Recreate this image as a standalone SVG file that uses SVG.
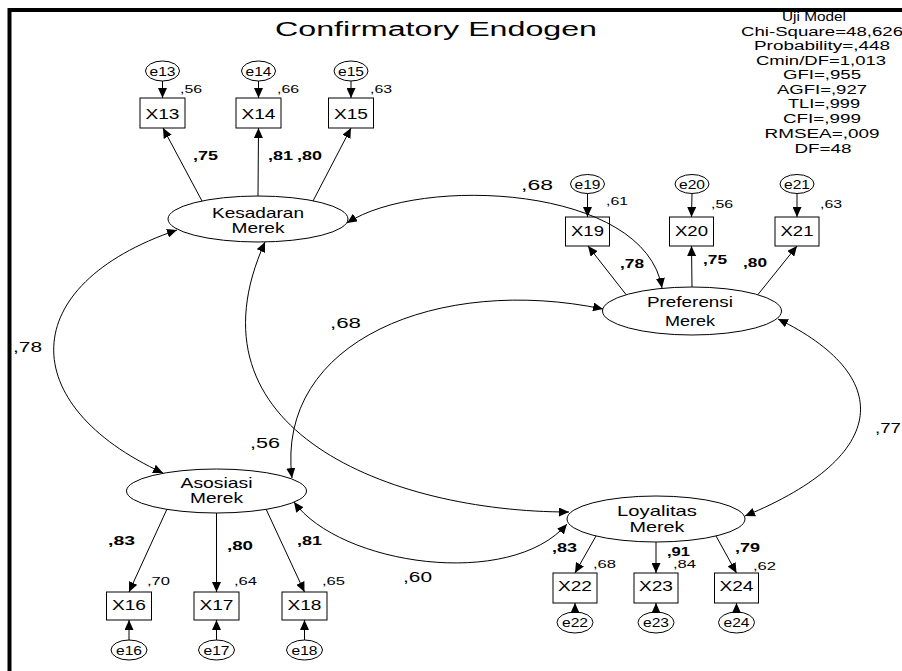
<svg xmlns="http://www.w3.org/2000/svg" width="902" height="671" viewBox="0 0 902 671">
  <style>
    text { font-family: "Liberation Sans", Arial, sans-serif; fill: #000; }
    .ln { stroke: #000; stroke-width: 1; fill: none; }
    .one { marker-end: url(#ah); }
    .two { marker-start: url(#ah); marker-end: url(#ah); }
    .shape { fill: #fff; stroke: #000; stroke-width: 1; }
    .lat { font-size: 14.5px; text-anchor: middle; }
    .obs { font-size: 14px; text-anchor: middle; }
    .err { font-size: 13px; text-anchor: middle; }
    .r2 { font-size: 11px; }
    .ld { font-size: 13px; font-weight: bold; }
    .cv { font-size: 14px; }
    .fit { font-size: 12px; text-anchor: middle; }
    .title { font-size: 20px; }
  </style>
  <defs>
    <marker id="ah" viewBox="0 0 10 9" refX="10" refY="4.5" markerWidth="10" markerHeight="9" markerUnits="userSpaceOnUse" orient="auto-start-reverse">
      <path d="M0,0 L10,4.5 L0,9 z" fill="#000"/>
    </marker>
  </defs>

  <rect width="902" height="671" fill="#fff"/>
  <!-- frame -->
  <path d="M9.5,671 V10 H902" fill="none" stroke="#000" stroke-width="4"/>

  <text class="title" x="275" y="36" textLength="322" lengthAdjust="spacingAndGlyphs">Confirmatory Endogen</text>

  <!-- model fit -->
  <g id="fit">
    <text class="fit" x="814" y="21" textLength="64" lengthAdjust="spacingAndGlyphs">Uji Model</text>
    <text class="fit" x="822" y="35.5" textLength="162" lengthAdjust="spacingAndGlyphs">Chi-Square=48,626</text>
    <text class="fit" x="822" y="50" textLength="136" lengthAdjust="spacingAndGlyphs">Probability=,448</text>
    <text class="fit" x="821" y="64.5" textLength="130" lengthAdjust="spacingAndGlyphs">Cmin/DF=1,013</text>
    <text class="fit" x="822" y="79" textLength="78" lengthAdjust="spacingAndGlyphs">GFI=,955</text>
    <text class="fit" x="822" y="94" textLength="90" lengthAdjust="spacingAndGlyphs">AGFI=,927</text>
    <text class="fit" x="824" y="108" textLength="72" lengthAdjust="spacingAndGlyphs">TLI=,999</text>
    <text class="fit" x="822" y="123" textLength="78" lengthAdjust="spacingAndGlyphs">CFI=,999</text>
    <text class="fit" x="822" y="138" textLength="115" lengthAdjust="spacingAndGlyphs">RMSEA=,009</text>
    <text class="fit" x="823" y="152.5" textLength="57" lengthAdjust="spacingAndGlyphs">DF=48</text>
  </g>

  <!-- latent variables -->
  <g id="kesadaran">
    <ellipse class="shape" cx="258" cy="219" rx="90" ry="23"/>
    <text class="lat" x="258" y="218" textLength="92" lengthAdjust="spacingAndGlyphs">Kesadaran</text>
    <text class="lat" x="258" y="233" textLength="53" lengthAdjust="spacingAndGlyphs">Merek</text>
  </g>
  <g id="preferensi">
    <ellipse class="shape" cx="692" cy="311" rx="89.5" ry="24"/>
    <text class="lat" x="690" y="307" textLength="86" lengthAdjust="spacingAndGlyphs">Preferensi</text>
    <text class="lat" x="690" y="326" textLength="50" lengthAdjust="spacingAndGlyphs">Merek</text>
  </g>
  <g id="asosiasi">
    <ellipse class="shape" cx="216.5" cy="491" rx="90" ry="22"/>
    <text class="lat" x="216.5" y="488" textLength="72" lengthAdjust="spacingAndGlyphs">Asosiasi</text>
    <text class="lat" x="216.5" y="503" textLength="53" lengthAdjust="spacingAndGlyphs">Merek</text>
  </g>
  <g id="loyalitas">
    <ellipse class="shape" cx="656" cy="519" rx="89" ry="23"/>
    <text class="lat" x="657" y="516" textLength="80" lengthAdjust="spacingAndGlyphs">Loyalitas</text>
    <text class="lat" x="657" y="532" textLength="55" lengthAdjust="spacingAndGlyphs">Merek</text>
  </g>

  <!-- indicators -->
  <g id="X13"><rect class="shape" x="140" y="98" width="45" height="30"/><text class="obs" x="162.5" y="118.5" textLength="34" lengthAdjust="spacingAndGlyphs">X13</text></g>
  <g id="X14"><rect class="shape" x="236" y="98" width="45" height="30"/><text class="obs" x="258.5" y="118.5" textLength="34" lengthAdjust="spacingAndGlyphs">X14</text></g>
  <g id="X15"><rect class="shape" x="328.5" y="98" width="45" height="30"/><text class="obs" x="351" y="118.5" textLength="34" lengthAdjust="spacingAndGlyphs">X15</text></g>

  <g id="X19"><rect class="shape" x="565.5" y="217" width="44" height="29"/><text class="obs" x="587.5" y="235.5" textLength="33" lengthAdjust="spacingAndGlyphs">X19</text></g>
  <g id="X20"><rect class="shape" x="669.5" y="217" width="44" height="29"/><text class="obs" x="691.5" y="235.5" textLength="33" lengthAdjust="spacingAndGlyphs">X20</text></g>
  <g id="X21"><rect class="shape" x="775" y="217" width="44" height="29"/><text class="obs" x="797" y="235.5" textLength="33" lengthAdjust="spacingAndGlyphs">X21</text></g>

  <g id="X16"><rect class="shape" x="106.5" y="592" width="45" height="28"/><text class="obs" x="129" y="610" textLength="34" lengthAdjust="spacingAndGlyphs">X16</text></g>
  <g id="X17"><rect class="shape" x="194" y="592" width="45" height="28"/><text class="obs" x="216.5" y="610" textLength="34" lengthAdjust="spacingAndGlyphs">X17</text></g>
  <g id="X18"><rect class="shape" x="282" y="592" width="45" height="28"/><text class="obs" x="304.5" y="610" textLength="34" lengthAdjust="spacingAndGlyphs">X18</text></g>

  <g id="X22"><rect class="shape" x="553" y="573" width="44" height="30"/><text class="obs" x="575" y="590.5" textLength="34" lengthAdjust="spacingAndGlyphs">X22</text></g>
  <g id="X23"><rect class="shape" x="634" y="573" width="44" height="30"/><text class="obs" x="656" y="590.5" textLength="34" lengthAdjust="spacingAndGlyphs">X23</text></g>
  <g id="X24"><rect class="shape" x="714.5" y="573" width="44" height="30"/><text class="obs" x="736.5" y="590.5" textLength="34" lengthAdjust="spacingAndGlyphs">X24</text></g>

  <!-- error terms -->
  <g id="e13"><ellipse class="shape" cx="162.5" cy="71" rx="17" ry="10"/><text class="err" x="162.5" y="75.5" textLength="26" lengthAdjust="spacingAndGlyphs">e13</text></g>
  <g id="e14"><ellipse class="shape" cx="258.5" cy="71" rx="17" ry="10"/><text class="err" x="258.5" y="75.5" textLength="26" lengthAdjust="spacingAndGlyphs">e14</text></g>
  <g id="e15"><ellipse class="shape" cx="351" cy="71" rx="17" ry="10"/><text class="err" x="351" y="75.5" textLength="26" lengthAdjust="spacingAndGlyphs">e15</text></g>

  <g id="e19"><ellipse class="shape" cx="587.5" cy="184" rx="17" ry="9.5"/><text class="err" x="587.5" y="188.5" textLength="26" lengthAdjust="spacingAndGlyphs">e19</text></g>
  <g id="e20"><ellipse class="shape" cx="692" cy="184" rx="17" ry="9.5"/><text class="err" x="692" y="188.5" textLength="26" lengthAdjust="spacingAndGlyphs">e20</text></g>
  <g id="e21"><ellipse class="shape" cx="797" cy="184" rx="17" ry="9.5"/><text class="err" x="797" y="188.5" textLength="26" lengthAdjust="spacingAndGlyphs">e21</text></g>

  <g id="e16"><ellipse class="shape" cx="129" cy="650" rx="18" ry="10"/><text class="err" x="129" y="654.5" textLength="26" lengthAdjust="spacingAndGlyphs">e16</text></g>
  <g id="e17"><ellipse class="shape" cx="216.5" cy="650" rx="18" ry="10"/><text class="err" x="216.5" y="654.5" textLength="26" lengthAdjust="spacingAndGlyphs">e17</text></g>
  <g id="e18"><ellipse class="shape" cx="304.5" cy="650" rx="18" ry="10"/><text class="err" x="304.5" y="654.5" textLength="26" lengthAdjust="spacingAndGlyphs">e18</text></g>

  <g id="e22"><ellipse class="shape" cx="575" cy="622.5" rx="18" ry="10.5"/><text class="err" x="575" y="627" textLength="26" lengthAdjust="spacingAndGlyphs">e22</text></g>
  <g id="e23"><ellipse class="shape" cx="656" cy="622.5" rx="18" ry="10.5"/><text class="err" x="656" y="627" textLength="26" lengthAdjust="spacingAndGlyphs">e23</text></g>
  <g id="e24"><ellipse class="shape" cx="736.5" cy="622.5" rx="18" ry="10.5"/><text class="err" x="736.5" y="627" textLength="26" lengthAdjust="spacingAndGlyphs">e24</text></g>

  <!-- paths and covariances -->
  <g id="connectors" class="ln">
    <!-- error to indicator -->
    <line class="one" x1="162.5" y1="81" x2="162.5" y2="98"/>
    <line class="one" x1="258.5" y1="81" x2="258.5" y2="98"/>
    <line class="one" x1="351" y1="81" x2="351" y2="98"/>
    <line class="one" x1="587.5" y1="193.5" x2="587.5" y2="217"/>
    <line class="one" x1="692" y1="193.5" x2="691.5" y2="217"/>
    <line class="one" x1="797" y1="193.5" x2="797" y2="217"/>
    <line class="one" x1="129" y1="640" x2="129" y2="620"/>
    <line class="one" x1="216.5" y1="640" x2="216.5" y2="620"/>
    <line class="one" x1="304.5" y1="640" x2="304.5" y2="620"/>
    <line class="one" x1="575" y1="612" x2="575" y2="603"/>
    <line class="one" x1="656" y1="612" x2="656" y2="603"/>
    <line class="one" x1="736.5" y1="612" x2="736.5" y2="603"/>

    <!-- loadings -->
    <line class="one" x1="202" y1="201" x2="163" y2="128"/>
    <line class="one" x1="258" y1="196" x2="258.5" y2="128"/>
    <line class="one" x1="313" y1="201" x2="351" y2="128"/>

    <line class="one" x1="626" y1="294.5" x2="588" y2="246"/>
    <line class="one" x1="692" y1="287" x2="691.5" y2="246"/>
    <line class="one" x1="758" y1="294.5" x2="797" y2="246"/>

    <line class="one" x1="167" y1="509" x2="129" y2="592"/>
    <line class="one" x1="216.5" y1="513" x2="216.5" y2="592"/>
    <line class="one" x1="266" y1="509" x2="304.5" y2="592"/>

    <line class="one" x1="596" y1="536" x2="575" y2="573"/>
    <line class="one" x1="656" y1="542" x2="656" y2="573"/>
    <line class="one" x1="716" y1="536" x2="736.5" y2="573"/>

    <!-- covariances between latents -->
    <path class="two" d="M347,223 C420,175 645,185 662,288"/>
    <path class="two" d="M177,230 C15,285 15,405 163,473"/>
    <path class="two" d="M292,478 C275,340 440,275 603,309"/>
    <path class="two" d="M265,242 C180,430 390,512 569,512"/>
    <path class="two" d="M294,502 C340,565 510,590 567,524"/>
    <path class="two" d="M778,319 C893,375 893,455 745,516"/>
  </g>

  <!-- squared multiple correlations -->
  <g id="r2">
    <text class="r2" x="180" y="93" textLength="22" lengthAdjust="spacingAndGlyphs">,56</text>
    <text class="r2" x="277" y="93" textLength="22" lengthAdjust="spacingAndGlyphs">,66</text>
    <text class="r2" x="370" y="93" textLength="22" lengthAdjust="spacingAndGlyphs">,63</text>
    <text class="r2" x="606" y="205" textLength="22" lengthAdjust="spacingAndGlyphs">,61</text>
    <text class="r2" x="711" y="208" textLength="22" lengthAdjust="spacingAndGlyphs">,56</text>
    <text class="r2" x="820" y="208" textLength="22" lengthAdjust="spacingAndGlyphs">,63</text>
    <text class="r2" x="147" y="585" textLength="23" lengthAdjust="spacingAndGlyphs">,70</text>
    <text class="r2" x="234" y="585" textLength="23" lengthAdjust="spacingAndGlyphs">,64</text>
    <text class="r2" x="322" y="585" textLength="23" lengthAdjust="spacingAndGlyphs">,65</text>
    <text class="r2" x="593" y="568" textLength="23" lengthAdjust="spacingAndGlyphs">,68</text>
    <text class="r2" x="673" y="568" textLength="23" lengthAdjust="spacingAndGlyphs">,84</text>
    <text class="r2" x="753" y="570" textLength="23" lengthAdjust="spacingAndGlyphs">,62</text>
  </g>

  <!-- standardized loadings -->
  <g id="loadings">
    <text class="ld" x="193" y="160" textLength="25" lengthAdjust="spacingAndGlyphs">,75</text>
    <text class="ld" x="268" y="160" textLength="25" lengthAdjust="spacingAndGlyphs">,81</text>
    <text class="ld" x="297" y="160" textLength="25" lengthAdjust="spacingAndGlyphs">,80</text>
    <text class="ld" x="620" y="268" textLength="24" lengthAdjust="spacingAndGlyphs">,78</text>
    <text class="ld" x="703" y="264" textLength="24" lengthAdjust="spacingAndGlyphs">,75</text>
    <text class="ld" x="743" y="267" textLength="24" lengthAdjust="spacingAndGlyphs">,80</text>
    <text class="ld" x="108" y="545" textLength="27" lengthAdjust="spacingAndGlyphs">,83</text>
    <text class="ld" x="227" y="550" textLength="26" lengthAdjust="spacingAndGlyphs">,80</text>
    <text class="ld" x="297" y="545" textLength="25" lengthAdjust="spacingAndGlyphs">,81</text>
    <text class="ld" x="552" y="552" textLength="25" lengthAdjust="spacingAndGlyphs">,83</text>
    <text class="ld" x="667" y="556" textLength="23" lengthAdjust="spacingAndGlyphs">,91</text>
    <text class="ld" x="735" y="552" textLength="25" lengthAdjust="spacingAndGlyphs">,79</text>
  </g>

  <!-- correlations -->
  <g id="correlations">
    <text class="cv" x="521" y="190" textLength="32" lengthAdjust="spacingAndGlyphs">,68</text>
    <text class="cv" x="330" y="328" textLength="31" lengthAdjust="spacingAndGlyphs">,68</text>
    <text class="cv" x="13" y="351.5" textLength="29" lengthAdjust="spacingAndGlyphs">,78</text>
    <text class="cv" x="250" y="448" textLength="30" lengthAdjust="spacingAndGlyphs">,56</text>
    <text class="cv" x="403" y="582" textLength="29" lengthAdjust="spacingAndGlyphs">,60</text>
    <text class="cv" x="875" y="433" textLength="26" lengthAdjust="spacingAndGlyphs">,77</text>
  </g>
</svg>
